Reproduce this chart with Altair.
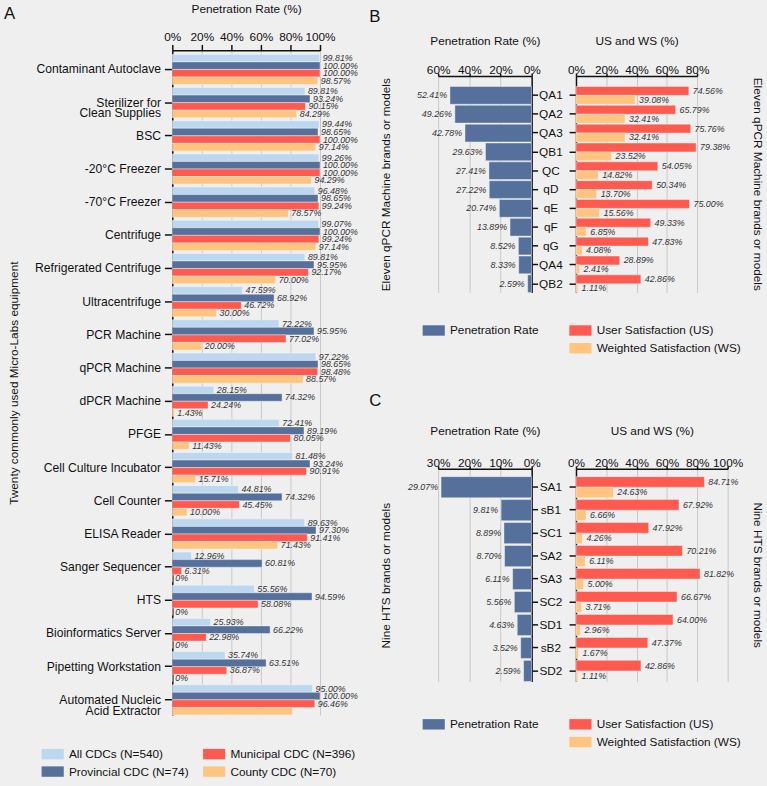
import altair as alt
import pandas as pd

FONT = "Liberation Sans"
BG = "#efeff0"
C_ALL, C_PROV, C_MUN, C_CTY = "#bdd7ee", "#54709b", "#ff5a50", "#ffc47f"
C_PEN, C_US, C_WS = "#54709b", "#ff5a50", "#ffc47f"

# ---------------- Panel A: equipment penetration by CDC level ----------------
equipment = [
    "Contaminant Autoclave", "Sterilizer for|Clean Supplies", "BSC", "-20°C Freezer",
    "-70°C Freezer", "Centrifuge", "Refrigerated Centrifuge", "Ultracentrifuge",
    "PCR Machine", "qPCR Machine", "dPCR Machine", "PFGE", "Cell Culture Incubator",
    "Cell Counter", "ELISA Reader", "Sanger Sequencer", "HTS", "Bioinformatics Server",
    "Pipetting Workstation", "Automated Nucleic|Acid Extractor",
]
all_cdcs = [99.81, 89.81, 99.44, 99.26, 96.48, 99.07, 89.81, 47.59, 72.22, 97.22,
            28.15, 72.41, 81.48, 44.81, 89.63, 12.96, 55.56, 25.93, 35.74, 95.00]
provincial = [100.00, 93.24, 98.65, 100.00, 98.65, 100.00, 95.95, 68.92, 95.95, 98.65,
              74.32, 89.19, 93.24, 74.32, 97.30, 60.81, 94.59, 66.22, 63.51, 100.00]
municipal = [100.00, 90.15, 100.00, 100.00, 99.24, 99.24, 92.17, 46.72, 77.02, 98.48,
             24.24, 80.05, 90.91, 45.45, 91.41, 6.31, 58.08, 22.98, 36.87, 96.46]
county = [98.57, 84.29, 97.14, 94.29, 78.57, 97.14, 70.00, 30.00, 20.00, 88.57,
          1.43, 11.43, 15.71, 10.00, 71.43, 0.0, 0.0, 0.0, 0.0, 81.43]
county_unlabeled = ["Automated Nucleic|Acid Extractor"]

groups = ["All CDCs (N=540)", "Provincial CDC (N=74)", "Municipal CDC (N=396)", "County CDC (N=70)"]
group_colors = [C_ALL, C_PROV, C_MUN, C_CTY]

# ---------------- Panel B: qPCR machine brands ----------------
qpcr_models = ["QA1", "QA2", "QA3", "QB1", "QC", "qD", "qE", "qF", "qG", "QA4", "QB2"]
qpcr_pen = [52.41, 49.26, 42.78, 29.63, 27.41, 27.22, 20.74, 13.89, 8.52, 8.33, 2.59]
qpcr_us = [74.56, 65.79, 75.76, 79.38, 54.05, 50.34, 75.00, 49.33, 47.83, 28.89, 42.86]
qpcr_ws = [39.08, 32.41, 32.41, 23.52, 14.82, 13.70, 15.56, 6.85, 4.08, 2.41, 1.11]

# ---------------- Panel C: HTS brands ----------------
hts_models = ["SA1", "sB1", "SC1", "SA2", "SA3", "SC2", "SD1", "sB2", "SD2"]
hts_pen = [29.07, 9.81, 8.89, 8.70, 6.11, 5.56, 4.63, 3.52, 2.59]
hts_us = [84.71, 67.92, 47.92, 70.21, 81.82, 66.67, 64.00, 47.37, 42.86]
hts_ws = [24.63, 6.66, 4.26, 6.11, 5.00, 3.71, 2.96, 1.67, 1.11]

SAT = ["User Satisfaction (US)", "Weighted Satisfaction (WS)"]
PEN = "Penetration Rate"


def pct(v):
    return "0%" if v == 0 else f"{v:.2f}%"


RECT = "M-1,-0.47H1V0.47H-1Z"
LABEL_STYLE = dict(fontStyle="italic", fontSize=9, color="#333333", font=FONT)


def legend(x, y, columns=1, column_pad=11):
    return alt.Legend(
        title=None, orient="none", legendX=x, legendY=y, columns=columns,
        symbolType=RECT, symbolSize=506, symbolStrokeWidth=0, symbolOpacity=1,
        labelFontSize=12, labelFont=FONT, labelColor="#111111", labelOffset=5,
        rowPadding=-3, columnPadding=column_pad, padding=0,
    )


def pct_axis(title, ticks, tick_size, label_pad, title_pad, offset=0):
    return alt.Axis(
        orient="top", values=ticks, tickCount=len(ticks), labelExpr="datum.value + '%'",
        title=title, grid=True, tickSize=tick_size, labelPadding=label_pad,
        titlePadding=title_pad, labelOverlap=False, labelFlush=False, offset=offset,
    )


# ---- A ----
# The equipment panel starts higher than the brand panels: its band scale
# reaches A_RAISE pixels above the view origin and the top axis is lifted
# by the same amount.
A_RAISE = 26
A_SPAN = 675

rows = []
for i, eq in enumerate(equipment):
    for g, vals in zip(groups, [all_cdcs, provincial, municipal, county]):
        v = vals[i]
        lab = pct(v)
        if g == groups[3] and eq in county_unlabeled:
            lab = ""
        rows.append({"equipment": eq, "group": g, "value": v, "label": lab})
df_a = pd.DataFrame(rows)

y_a = alt.Y(
    "equipment:N", sort=equipment,
    scale=alt.Scale(paddingInner=0.09, paddingOuter=0.06, align=1,
                    range=[-A_RAISE, A_SPAN - A_RAISE]),
    axis=alt.Axis(
        title="Twenty commonly used Micro-Labs equipment", labelExpr="split(datum.label, '|')",
        labelLineHeight=11, labelFontSize=12.3, tickSize=8, labelPadding=4, titlePadding=14,
    ),
)
yoff_a = alt.YOffset("group:N", sort=groups, scale=alt.Scale(paddingInner=0, paddingOuter=0))
x_a = alt.X(
    "value:Q", scale=alt.Scale(domain=[0, 100], nice=False),
    axis=pct_axis("Penetration Rate (%)", [0, 20, 40, 60, 80, 100], 6, 1, 15, offset=A_RAISE),
)
bars_a = alt.Chart(df_a).mark_bar(stroke="white", strokeWidth=0.4).encode(
    x=x_a, y=y_a, yOffset=yoff_a,
    color=alt.Color("group:N", scale=alt.Scale(domain=groups, range=group_colors),
                    legend=legend(-133, 677, columns=2, column_pad=14)),
)
text_a = alt.Chart(df_a).mark_text(align="left", dx=3, **LABEL_STYLE).encode(
    x=x_a, y=y_a, yOffset=yoff_a, text="label:N",
)
panel_a = alt.layer(bars_a, text_a).properties(
    width=150, height=A_SPAN - A_RAISE,
    title=alt.TitleParams("A", anchor="start", frame="bounds", fontSize=17, fontWeight="normal",
                          offset=0, dy=20, dx=-4, font=FONT),
)


def brand_panel(letter, letter_offset, models, pen, us, ws, pen_max, sat_max, left_w, right_w,
                h, p_outer, p_inner, ytitle, right_title_offset, leg_y, title_pad):
    df_p = pd.DataFrame({"model": models, "pen": pen, "series": PEN,
                         "label": [pct(v) for v in pen]})
    srows = []
    for m, u, w in zip(models, us, ws):
        srows.append({"model": m, "metric": SAT[0], "value": u, "label": pct(u)})
        srows.append({"model": m, "metric": SAT[1], "value": w, "label": pct(w)})
    df_s = pd.DataFrame(srows)

    yscale = alt.Scale(paddingInner=p_inner, paddingOuter=p_outer, align=1)
    pen_ticks = list(range(0, pen_max + 1, 10 if pen_max <= 30 else 20))
    sat_ticks = list(range(0, sat_max + 1, 20))

    # left half: penetration bars growing leftwards, title on the outer side,
    # ticks on the inner (0%) side
    x_left = alt.X("pen:Q", scale=alt.Scale(domain=[0, pen_max], reverse=True, nice=False),
                   axis=pct_axis("Penetration Rate (%)", pen_ticks, 3, -4, title_pad))
    left_bars = alt.Chart(df_p).mark_bar(stroke="white", strokeWidth=0.4).encode(
        x=x_left,
        y=alt.Y("model:N", sort=models, scale=yscale,
                axis=alt.Axis(orient="left", title=ytitle, labels=False, ticks=False,
                              domain=False, titlePadding=46)),
        color=alt.Color("series:N", scale=alt.Scale(domain=[PEN], range=[C_PEN]),
                        legend=legend(-16, leg_y)),
    )
    left_text = alt.Chart(df_p).mark_text(align="right", dx=-3, **LABEL_STYLE).encode(
        x=x_left,
        y=alt.Y("model:N", sort=models, scale=yscale,
                axis=alt.Axis(orient="right", labels=False, title=None, tickSize=6)),
        text="label:N")
    left = alt.layer(left_bars, left_text).resolve_axis(y="independent").properties(
        width=left_w, height=h,
        title=alt.TitleParams(letter, anchor="start", frame="bounds", fontSize=17,
                              fontWeight="normal", offset=letter_offset, dx=-11, font=FONT),
    )

    # right half: user and weighted satisfaction
    y_right = alt.Y("model:N", sort=models, scale=yscale,
                    axis=alt.Axis(orient="left", title=None, labelAlign="center",
                                  labelPadding=19, tickSize=7))
    x_right = alt.X("value:Q", scale=alt.Scale(domain=[0, sat_max], nice=False),
                    axis=pct_axis("US and WS (%)", sat_ticks, 3, -4, title_pad))
    yoff = alt.YOffset("metric:N", sort=SAT, scale=alt.Scale(paddingInner=0, paddingOuter=0))
    right_bars = alt.Chart(df_s).mark_bar(stroke="white", strokeWidth=0.4).encode(
        x=x_right, y=y_right, yOffset=yoff,
        color=alt.Color("metric:N", scale=alt.Scale(domain=SAT, range=[C_US, C_WS]),
                        legend=legend(-7, leg_y)),
    )
    right_text = alt.Chart(df_s).mark_text(align="left", dx=4, **LABEL_STYLE).encode(
        x=x_right, y=y_right, yOffset=yoff, text="label:N")
    right = alt.layer(right_bars, right_text).properties(
        width=right_w, height=h,
        title=alt.TitleParams(ytitle, orient="right", frame="group", fontSize=12,
                              fontWeight="normal", offset=right_title_offset, font=FONT),
    )
    return alt.hconcat(left, right, spacing=-4).resolve_scale(
        color="independent", yOffset="independent")


panel_b = brand_panel("B", 9, qpcr_models, qpcr_pen, qpcr_us, qpcr_ws, 60, 80, 95, 123, 220,
                      0.28, 0.06, "Eleven qPCR Machine brands or models", 10, 247, 17)
panel_c = brand_panel("C", 15, hts_models, hts_pen, hts_us, hts_ws, 30, 100, 95, 154, 216,
                      0.17, 0.08, "Nine HTS brands or models", 8, 248, 20)

right_col = alt.vconcat(panel_b, panel_c, spacing=36).resolve_scale(
    color="independent", yOffset="independent")

chart = alt.concat(panel_a, right_col, columns=2, spacing=9, align="none").resolve_scale(
    color="independent", yOffset="independent"
).properties(
    padding={"left": 3, "top": -4, "right": 2, "bottom": 2}, background=BG,
).configure(font=FONT).configure_view(stroke="transparent").configure_axis(
    labelFont=FONT, titleFont=FONT, labelFontSize=12, titleFontSize=12,
    titleFontWeight="normal", labelColor="#111111", titleColor="#111111",
    domainColor="#111111", tickColor="#111111", domainWidth=1.5, tickWidth=1.5,
    gridColor="#c8c8c8", gridWidth=1, labelOverlap=False,
).configure_title(color="#111111")

chart.save("out.html", embed_options={"renderer": "svg", "actions": False})
